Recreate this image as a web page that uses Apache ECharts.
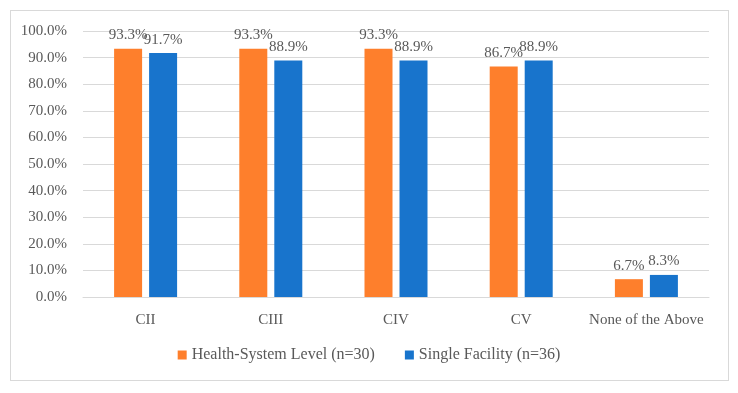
<!DOCTYPE html>
<html>
<head>
<meta charset="utf-8">
<script src="https://cdn.jsdelivr.net/npm/echarts@6/dist/echarts.min.js"></script>
<style>
  html, body { margin: 0; padding: 0; background: #fff; }
  #frame { position: absolute; left: 10px; top: 10px; width: 719px; height: 371px; border: 1px solid #d9d9d9; box-sizing: border-box; }
  #chart { width: 738px; height: 393px; }
</style>
</head>
<body>
<div id="frame"></div>
<div id="chart"></div>
<script>
const categories = ['CII', 'CIII', 'CIV', 'CV', 'None of the Above']
const healthSystem = [93.3, 93.3, 93.3, 86.7, 6.7]
const singleFacility = [91.7, 88.9, 88.9, 88.9, 8.3]
const seriesNames = ['Health-System Level (n=30)', 'Single Facility (n=36)']

const font = 'Liberation Serif'
const textColor = '#595959'

const chart = echarts.init(document.getElementById('chart'))

const labelOpt = {
  show: true,
  position: 'top',
  distance: 6,
  color: textColor,
  fontFamily: font,
  fontSize: 15,
  formatter: p => p.value.toFixed(1) + '%'
}

chart.setOption({
  animation: false,
  grid: { left: 83, right: 29, top: 31, bottom: 96 },
  legend: {
    bottom: 25,
    left: 'center',
    itemWidth: 9,
    itemHeight: 9,
    itemGap: 30,
    icon: 'rect',
    textStyle: { color: textColor, fontFamily: font, fontSize: 16 },
    data: seriesNames
  },
  xAxis: {
    type: 'category',
    data: categories,
    axisLine: { lineStyle: { color: '#d9d9d9' } },
    axisTick: { show: false },
    axisLabel: { color: textColor, fontFamily: font, fontSize: 15, margin: 16, interval: 0 }
  },
  yAxis: {
    type: 'value',
    min: 0,
    max: 100,
    interval: 10,
    axisLine: { show: false },
    axisTick: { show: false },
    splitLine: { lineStyle: { color: '#d9d9d9' } },
    axisLabel: {
      color: textColor, fontFamily: font, fontSize: 15, margin: 16,
      formatter: v => v.toFixed(1) + '%'
    }
  },
  series: [
    {
      name: seriesNames[0],
      type: 'bar',
      data: healthSystem,
      barWidth: 28,
      barGap: '25%',
      itemStyle: { color: '#fe7f2c' },
      label: labelOpt
    },
    {
      name: seriesNames[1],
      type: 'bar',
      data: singleFacility,
      barWidth: 28,
      barGap: '25%',
      itemStyle: { color: '#1874cc' },
      label: labelOpt
    }
  ]
})
</script>
</body>
</html>
